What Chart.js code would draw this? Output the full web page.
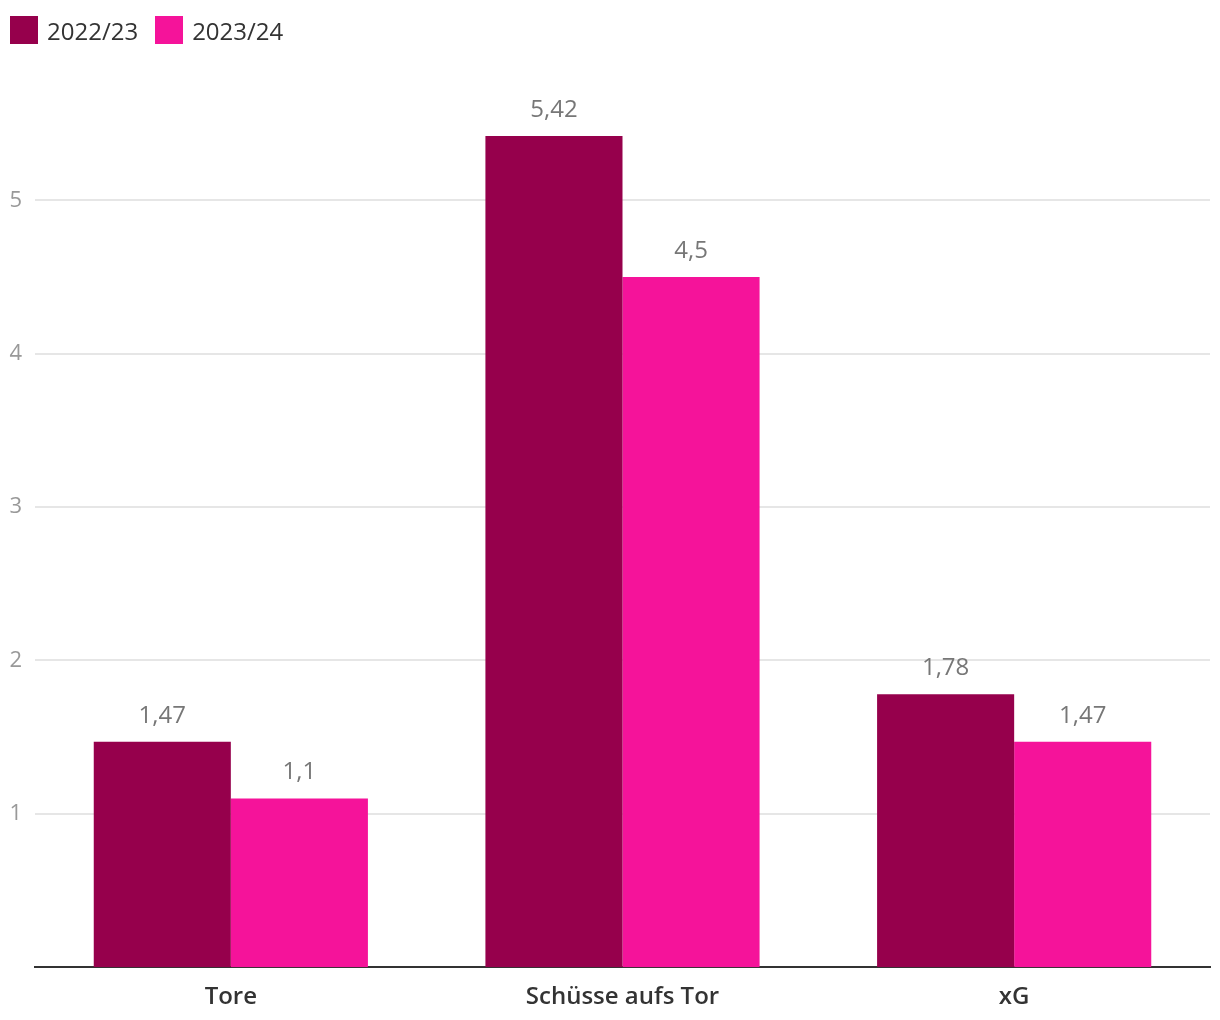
<!DOCTYPE html>
<html>
<head>
<meta charset="utf-8">
<script src="https://cdn.jsdelivr.net/npm/chart.js@4"></script>
<style>
  html, body { margin: 0; padding: 0; background: #fff; }
  #wrap { position: relative; width: 1220px; height: 1020px; }
  #legend { position: absolute; left: 10px; top: 16px; display: flex; font-family: "Open Sans", sans-serif; font-size: 24px; font-weight: 500; color: #333; }
  .item { display: flex; align-items: center; margin-right: 17px; height: 28px; }
  .box { width: 28px; height: 28px; margin-right: 9px; }
</style>
</head>
<body>
<div id="wrap">
  <canvas id="c" width="1220" height="1020"></canvas>
  <div id="legend"></div>
</div>
<script>
const categories = ["Tore", "Schüsse aufs Tor", "xG"];
const seriesNames = ["2022/23", "2023/24"];
const values2022 = [1.47, 5.42, 1.78];
const values2023 = [1.1, 4.5, 1.47];
const colors = ["#96004c", "#f5139a"];
const yTicks = [1, 2, 3, 4, 5];

const fmt = v => String(v).replace('.', ',');

const legend = document.getElementById('legend');
seriesNames.forEach((n, i) => {
  const it = document.createElement('div'); it.className = 'item';
  const b = document.createElement('div'); b.className = 'box'; b.style.background = colors[i];
  const t = document.createElement('span'); t.textContent = n;
  it.appendChild(b); it.appendChild(t); legend.appendChild(it);
});

const labelPlugin = {
  id: 'valueLabels',
  afterDatasetsDraw(chart) {
    const ctx = chart.ctx;
    ctx.save();
    ctx.font = '500 24px "Open Sans", sans-serif';
    ctx.fillStyle = '#777';
    ctx.textAlign = 'center';
    ctx.textBaseline = 'alphabetic';
    chart.data.datasets.forEach((ds, di) => {
      chart.getDatasetMeta(di).data.forEach((bar, i) => {
        ctx.fillText(fmt(ds.data[i]), bar.x, bar.y - 19);
      });
    });
    ctx.restore();
  }
};

new Chart(document.getElementById('c'), {
  type: 'bar',
  data: {
    labels: categories,
    datasets: [
      { label: seriesNames[0], data: values2022, backgroundColor: colors[0] },
      { label: seriesNames[1], data: values2023, backgroundColor: colors[1] }
    ]
  },
  plugins: [labelPlugin],
  options: {
    responsive: false,
    animation: false,
    devicePixelRatio: 1,
    layout: { padding: { top: 47, right: 10, left: 0, bottom: 0 } },
    datasets: { bar: { categoryPercentage: 0.7, barPercentage: 1.0 } },
    plugins: { legend: { display: false }, tooltip: { enabled: false } },
    scales: {
      x: {
        grid: { display: false },
        border: { display: true, color: '#333', width: 2 },
        ticks: { color: '#333', padding: 8, font: { family: '"Open Sans", sans-serif', size: 24, weight: '600' } }
      },
      y: {
        min: 0, max: 6,
        afterFit(scale) { scale.width = 35; },
        afterBuildTicks(scale) { scale.ticks = yTicks.map(v => ({ value: v })); },
        grid: { color: '#e6e6e6', lineWidth: 2, drawTicks: false },
        border: { display: false },
        ticks: { color: '#999', padding: 13, font: { family: '"Open Sans", sans-serif', size: 22 }, callback: v => fmt(v) }
      }
    }
  }
});
</script>
</body>
</html>
